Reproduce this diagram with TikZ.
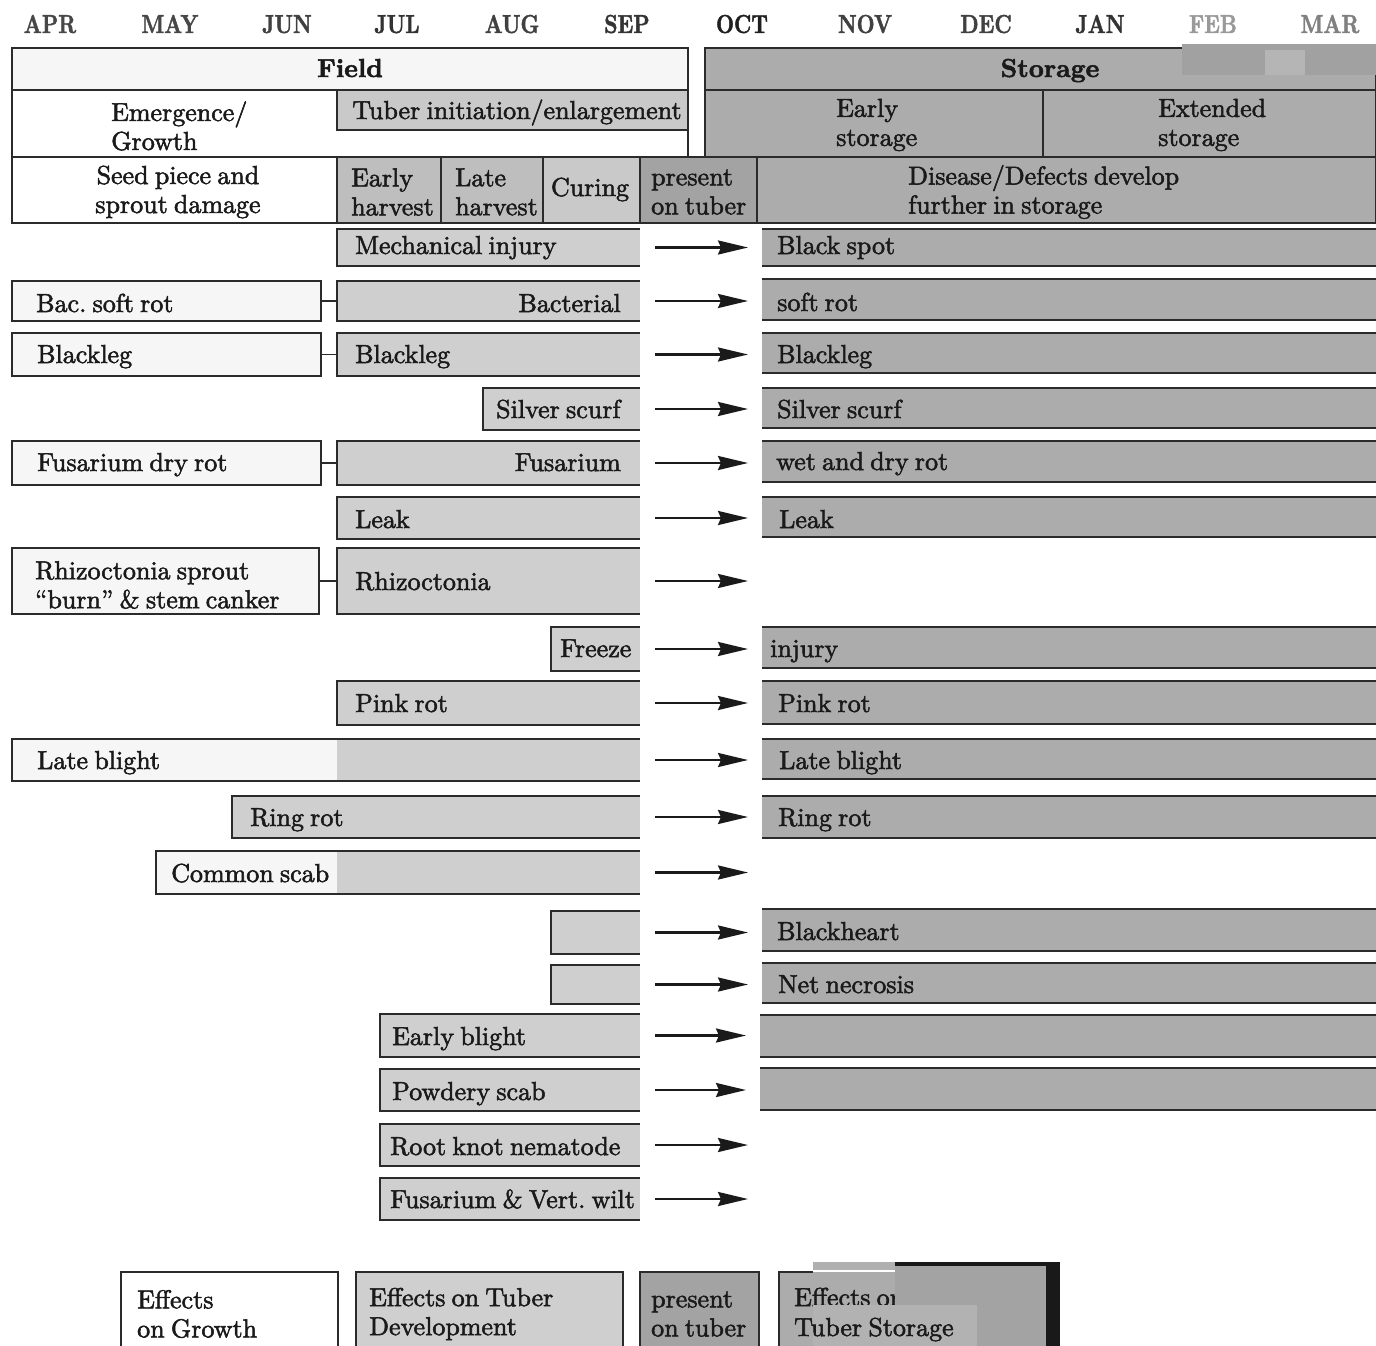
\documentclass[tikz,border=0pt]{standalone}
\usepackage{fontspec}
\setmainfont{lmroman10-regular.otf}[BoldFont=lmroman10-bold.otf, FakeBold=2, WordSpace=0.72]
\newfontfamily\monthfont{lmroman10-bold.otf}[FakeStretch=0.8, FakeBold=1.5]
\usetikzlibrary{arrows.meta}
\definecolor{bord}{HTML}{2B2B2B}
\definecolor{fgray}{HTML}{CFCFCF}
\definecolor{tgray}{HTML}{C9C9C9}
\definecolor{hgray}{HTML}{BEBEBE}
\definecolor{pgray}{HTML}{A3A3A3}
\definecolor{sgray}{HTML}{ACACAC}
\definecolor{wfill}{HTML}{F6F6F6}
\definecolor{ink}{HTML}{1A1A1A}
\newcommand\fsz{\frenchspacing\fontsize{26}{29}\selectfont}
\newcommand\rbox[6]{%
  \pgfmathsetmacro\rw{#5-#3}%
  \pgfmathsetmacro\rh{#6-#4}%
  \node[#1, anchor=north west, inner sep=0pt, outer sep=0pt, minimum width=\rw pt, minimum height=\rh pt] (#2) at (#3,#4) {};}
\newcommand\fframe[1]{\draw[bl] (#1.north east) -- (#1.north west) -- (#1.south west) -- (#1.south east);}
\newcommand\sframe[1]{\draw[bl] (#1.north west) -- (#1.north east) (#1.south west) -- (#1.south east);}
\begin{document}
\begin{tikzpicture}[x=1pt,y=-1pt,
  bl/.style={draw=bord, line width=1.8pt},
  cell/.style={draw=bord, line width=1.8pt},
  fld/.style={fill=fgray},
  sto/.style={fill=sgray},
  wht/.style={fill=wfill, draw=bord, line width=1.8pt},
  tl/.style={font=\fsz, text=ink, inner sep=0pt, anchor=base west},
  tr/.style={font=\fsz, text=ink, inner sep=0pt, anchor=base east},
  tc/.style={font=\fsz, text=ink, inner sep=0pt, anchor=base},
  tml/.style={font=\fsz, text=ink, inner sep=0pt, anchor=west, align=left},
  tmc/.style={font=\fsz, text=ink, inner sep=0pt, anchor=center, align=center},
  mon/.style={font=\monthfont\fontsize{26}{28}\selectfont, inner sep=0pt, anchor=base},
  arr/.style={line width=2.4pt, draw=ink, -{Stealth[length=30pt,width=14pt,inset=3pt]}, shorten <=15pt, shorten >=14pt}]
\useasboundingbox (0,0) rectangle (1376,1346);
\fill[white] (0,0) rectangle (1376,1346);
% months
\node[mon, text=black!72] (mApr) at (50,33) {APR};
\node[mon, text=black!72] (mMay) at (170,33) {MAY};
\node[mon, text=black!75] (mJun) at (287,33) {JUN};
\node[mon, text=black!80] (mJul) at (397,33) {JUL};
\node[mon, text=black!75] (mAug) at (512,33) {AUG};
\node[mon, text=black!80] (mSep) at (627,33) {SEP};
\node[mon, text=black!88] (mOct) at (742,33) {OCT};
\node[mon, text=black!75] (mNov) at (865,33) {NOV};
\node[mon, text=black!75] (mDec) at (986,33) {DEC};
\node[mon, text=black!80] (mJan) at (1100,33) {JAN};
\node[mon, text=black!40] (mFeb) at (1213,33) {FEB};
\node[mon, text=black!50] (mMar) at (1330,33) {MAR};
% header: field
\rbox{cell, fill=wfill}{field}{12}{48}{688}{90}
\rbox{cell, fill=white}{emerg}{12}{90}{688}{157}
\rbox{cell, fill=tgray}{tinit}{337}{90}{688}{130}
% header: storage
\rbox{cell, fill=sgray}{sthdr}{705}{48}{1376}{90}
\rbox{cell, fill=sgray}{est}{705}{90}{1043}{157}
\rbox{cell, fill=sgray}{xst}{1043}{90}{1376}{157}
% header: row 3
\rbox{cell, fill=white}{seed}{12}{157}{337}{223}
\rbox{cell, fill=hgray}{eh}{337}{157}{441}{223}
\rbox{cell, fill=hgray}{lh}{441}{157}{543}{223}
\rbox{cell, fill=tgray}{cur}{543}{157}{640}{223}
\rbox{cell, fill=sgray}{dis}{757}{157}{1376}{223}
\rbox{cell, fill=pgray}{pres}{640}{157}{757}{223}
% scanner patches at top right
\fill[black!37] (1182,44) rectangle (1376,75);
\fill[black!29] (1265,50) rectangle (1305,75);
% header texts
\node[tc, font=\bfseries\fsz] (tField) at (350,77) {Field};
\node[tml] (tEmerg) at (111,126) {Emergence/\\Growth};
\node[tc] (tTinit) at (517,119) {Tuber initiation/enlargement};
\node[tmc] (tSeed) at (178,192) {Seed piece and\\sprout damage};
\node[tml] (tEH) at (351,192) {Early\\harvest};
\node[tml] (tLH) at (455,192) {Late\\harvest};
\node[tc] (tCur) at (590,196) {Curing};
\node[tml] (tPres) at (651,192) {present\\on tuber};
\node[tc, font=\bfseries\fsz] (tSto) at (1050,77) {Storage};
\node[tml] (tEst) at (836,125) {Early\\storage};
\node[tml] (tXst) at (1158,125) {Extended\\storage};
\node[tml] (tDis) at (908,192) {Disease/Defects develop\\further in storage};
% rows: field boxes
\rbox{fld}{f1}{337}{229}{640}{266}
\rbox{wht}{w2}{12}{281}{321}{321}
\rbox{fld}{f2}{337}{281}{640}{321}
\rbox{wht}{w3}{12}{333}{321}{376}
\rbox{fld}{f3}{337}{333}{640}{376}
\rbox{fld}{f4}{483}{388}{640}{430}
\rbox{wht}{w5}{12}{441}{321}{485}
\rbox{fld}{f5}{337}{441}{640}{485}
\rbox{fld}{f6}{337}{497}{640}{539}
\rbox{wht}{w7}{12}{548}{319}{614}
\rbox{fld}{f7}{337}{548}{640}{614}
\rbox{fld}{f8}{551}{627}{640}{671}
\rbox{fld}{f9}{337}{681}{640}{725}
\rbox{fill=wfill}{w10}{12}{739}{337}{781}
\rbox{fld}{f10}{337}{739}{640}{781}
\rbox{fld}{f11}{232}{796}{640}{838}
\rbox{fill=wfill}{w12}{156}{851}{337}{894}
\rbox{fld}{f12}{337}{851}{640}{894}
\rbox{fld}{f13}{551}{911}{640}{954}
\rbox{fld}{f14}{551}{965}{640}{1004}
\rbox{fld}{f15}{380}{1014}{640}{1057}
\rbox{fld}{f16}{380}{1069}{640}{1111}
\rbox{fld}{f17}{380}{1124}{640}{1166}
\rbox{fld}{f18}{380}{1178}{640}{1220}
\foreach \i in {1,2,3,4,5,6,7,8,9,11,13,14,15,16,17,18} {\fframe{f\i}}
\draw[bl] (f10.north east) -- (w10.north west) -- (w10.south west) -- (f10.south east);
\draw[bl] (f12.north east) -- (w12.north west) -- (w12.south west) -- (f12.south east);
% storage boxes
\rbox{sto}{s1}{762}{229}{1376}{266}
\rbox{sto}{s2}{762}{279}{1376}{320}
\rbox{sto}{s3}{762}{333}{1376}{373}
\rbox{sto}{s4}{762}{388}{1376}{428}
\rbox{sto}{s5}{762}{441}{1376}{482}
\rbox{sto}{s6}{762}{497}{1376}{537}
\rbox{sto}{s8}{762}{627}{1376}{668}
\rbox{sto}{s9}{762}{681}{1376}{724}
\rbox{sto}{s10}{762}{739}{1376}{779}
\rbox{sto}{s11}{762}{796}{1376}{838}
\rbox{sto}{s13}{762}{909}{1376}{951}
\rbox{sto}{s14}{762}{963}{1376}{1003}
\rbox{sto}{s15}{760}{1015}{1376}{1057}
\rbox{sto}{s16}{760}{1068}{1376}{1110}
\foreach \i in {1,2,3,4,5,6,8,9,10,11,13,14,15,16} {\sframe{s\i}}
\coordinate (e7) at (762,581);
\coordinate (e12) at (762,875);
\coordinate (e17) at (762,1149);
\coordinate (e18) at (762,1200);
% links white -> field
\foreach \i in {2,3,5,7} {\draw[bl] (w\i.east) -- (f\i.west);}
% arrows
\foreach \i in {1,2,3,4,5,6,8,9,10,11,13,14,15,16} {\draw[arr] (f\i.east) -- (f\i.east -| s\i.west);}
\foreach \i in {7,12,17,18} {\draw[arr] (f\i.east) -- (f\i.east -| e\i);}
% row texts
\node[tl] (t1a) at (355,254) {Mechanical injury};
\node[tl] (t1b) at (777,254) {Black spot};
\node[tl] (t2w) at (36,312) {Bac. soft rot};
\node[tr] (t2a) at (621,312) {Bacterial};
\node[tl] (t2b) at (777,311) {soft rot};
\node[tl] (t3w) at (37,363) {Blackleg};
\node[tl] (t3a) at (355,363) {Blackleg};
\node[tl] (t3b) at (777,363) {Blackleg};
\node[tl] (t4a) at (496,418) {Silver scurf};
\node[tl] (t4b) at (777,418) {Silver scurf};
\node[tl] (t5w) at (37,471) {Fusarium dry rot};
\node[tr] (t5a) at (621,471) {Fusarium};
\node[tl] (t5b) at (776,470) {wet and dry rot};
\node[tl] (t6a) at (355,528) {Leak};
\node[tl] (t6b) at (779,528) {Leak};
\node[tml] (t7w) at (35,585) {Rhizoctonia sprout\\“burn” \& stem canker};
\node[tl] (t7a) at (355,590) {Rhizoctonia};
\node[tl] (t8a) at (560,657) {Freeze};
\node[tl] (t8b) at (770,657) {injury};
\node[tl] (t9a) at (355,712) {Pink rot};
\node[tl] (t9b) at (778,712) {Pink rot};
\node[tl] (t10w) at (37,769) {Late blight};
\node[tl] (t10b) at (779,769) {Late blight};
\node[tl] (t11a) at (250,826) {Ring rot};
\node[tl] (t11b) at (778,826) {Ring rot};
\node[tl] (t12w) at (171,882) {Common scab};
\node[tl] (t13b) at (777,940) {Blackheart};
\node[tl] (t14b) at (778,993) {Net necrosis};
\node[tl] (t15a) at (392,1045) {Early blight};
\node[tl] (t16a) at (392,1100) {Powdery scab};
\node[tl] (t17a) at (390,1155) {Root knot nematode};
\node[tl] (t18a) at (390,1208) {Fusarium \& Vert. wilt};
% legend
\fill[white] (121,1272) rectangle (338,1346);
\fill[fgray] (356,1272) rectangle (623,1346);
\fill[pgray] (640,1272) rectangle (759,1346);
\fill[sgray] (779,1272) rectangle (1046,1346);
\node[tml] (lg1) at (137,1314) {Effects\\on Growth};
\node[tml] (lg2) at (369,1314) {Effects on Tuber\\Development};
\node[tml] (lg3) at (651,1314) {present\\on tuber};
\node[tl] (lg4a) at (794,1306) {Effects on};
\fill[black!36] (895,1265) rectangle (1046,1346);
\fill[black!30] (813,1305) rectangle (977,1346);
\fill[black!31] (813,1262) rectangle (895,1270);
\node[tl] (lg4b) at (794,1336) {Tuber Storage};
\draw[bl] (121,1346) -- (121,1272) -- (338,1272) -- (338,1346);
\draw[bl] (356,1346) -- (356,1272) -- (623,1272) -- (623,1346);
\draw[bl] (640,1346) -- (640,1272) -- (759,1272) -- (759,1346);
\draw[bl] (779,1346) -- (779,1272) -- (813,1272);
\fill[black!90] (895,1262) rectangle (1060,1266);
\fill[black!90] (1046,1262) rectangle (1060,1346);
\end{tikzpicture}
\end{document}
